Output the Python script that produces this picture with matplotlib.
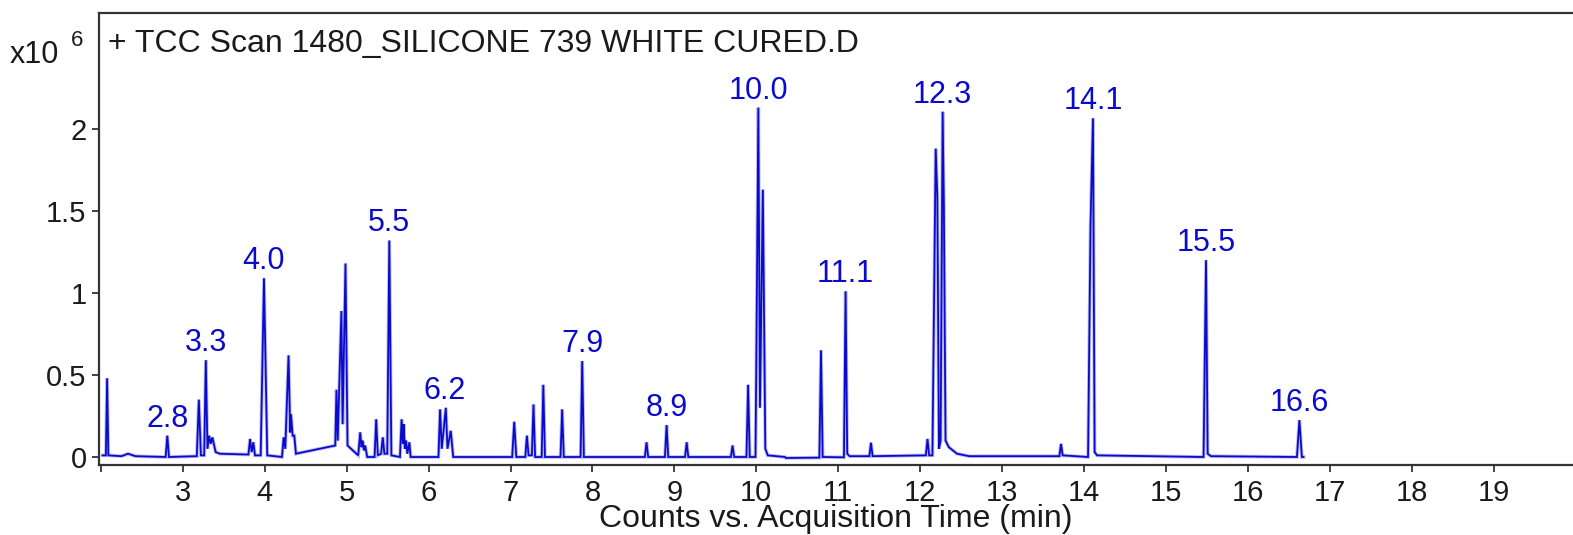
import matplotlib
matplotlib.use("Agg")
import matplotlib.pyplot as plt
from matplotlib.ticker import FixedLocator, FixedFormatter

# ---- data ----
# chromatogram trace vertices: acquisition time (min), counts (x10^6)
trace_time = [2.02, 2.06, 2.075, 2.09, 2.25, 2.33, 2.42, 2.79, 2.81, 2.83,
              3.17, 3.195, 3.22, 3.26, 3.28, 3.30, 3.32, 3.34, 3.36, 3.40,
              3.45, 3.80, 3.82, 3.84, 3.86, 3.88, 3.95, 3.99, 4.03, 4.21,
              4.23, 4.25, 4.29, 4.31, 4.32, 4.34, 4.36, 4.38, 4.86, 4.875,
              4.89, 4.935, 4.95, 4.985, 5.01, 5.14, 5.165, 5.18, 5.195, 5.21,
              5.225, 5.25, 5.34, 5.36, 5.38, 5.42, 5.44, 5.46, 5.495, 5.52,
              5.545, 5.65, 5.67, 5.685, 5.695, 5.71, 5.725, 5.74, 5.765, 5.78,
              6.12, 6.14, 6.16, 6.21, 6.23, 6.27, 6.30, 7.02, 7.045, 7.07,
              7.18, 7.20, 7.22, 7.26, 7.28, 7.30, 7.38, 7.40, 7.42, 7.61,
              7.63, 7.65, 7.855, 7.875, 7.895, 8.64, 8.66, 8.68, 8.885, 8.905,
              8.925, 9.13, 9.15, 9.17, 9.69, 9.71, 9.73, 9.88, 9.90, 9.92,
              9.99, 10.00, 10.025, 10.045, 10.08, 10.11, 10.14, 10.35, 10.36, 10.77,
              10.79, 10.81, 11.07, 11.09, 11.11, 11.14, 11.38, 11.40, 11.42, 12.07,
              12.09, 12.11, 12.15, 12.19, 12.21, 12.23, 12.25, 12.275, 12.29, 12.31,
              12.35, 12.45, 12.60, 13.70, 13.72, 13.74, 14.05, 14.08, 14.11, 14.13,
              14.16, 15.46, 15.49, 15.51, 15.55, 16.60, 16.63, 16.66, 16.68]
trace_counts = [0.01, 0.01, 0.48, 0.01, 0.005, 0.02, 0.005, 0.0, 0.13, 0.0,
                0.005, 0.35, 0.01, 0.01, 0.59, 0.05, 0.13, 0.08, 0.12, 0.03,
                0.02, 0.015, 0.11, 0.03, 0.09, 0.01, 0.01, 1.09, 0.01, 0.0,
                0.12, 0.05, 0.62, 0.15, 0.26, 0.13, 0.13, 0.02, 0.07, 0.41,
                0.10, 0.89, 0.20, 1.18, 0.07, 0.01, 0.15, 0.06, 0.10, 0.04,
                0.07, 0.0, 0.0, 0.23, 0.01, 0.02, 0.12, 0.02, 0.02, 1.32,
                0.01, 0.0, 0.23, 0.08, 0.20, 0.05, 0.10, 0.02, 0.09, 0.0,
                0.0, 0.29, 0.05, 0.30, 0.05, 0.16, 0.0, 0.0, 0.215, 0.0,
                0.0, 0.13, 0.01, 0.01, 0.32, 0.0, 0.0, 0.44, 0.0, 0.0,
                0.29, 0.0, 0.0, 0.585, 0.0, 0.0, 0.09, 0.0, 0.0, 0.195,
                0.0, 0.0, 0.09, 0.0, 0.0, 0.07, 0.0, 0.0, 0.44, 0.0,
                0.0, 0.56, 2.13, 0.30, 1.63, 0.05, 0.01, 0.0, -0.006, -0.004,
                0.65, 0.0, -0.002, 1.01, 0.02, 0.005, 0.005, 0.087, 0.005, 0.01,
                0.11, 0.01, 0.01, 1.88, 1.59, 0.05, 0.10, 2.105, 1.53, 0.10,
                0.06, 0.02, 0.005, 0.005, 0.08, 0.01, 0.0, 1.41, 2.065, 0.03,
                0.01, 0.0, 1.20, 0.02, 0.005, 0.0, 0.225, 0.0, 0.0]

# peak labels: text, apex time, apex counts (x10^6)
label_text = ["2.8", "3.3", "4.0", "5.5", "6.2", "7.9", "8.9", "10.0",
              "11.1", "12.3", "14.1", "15.5", "16.6"]
label_time = [2.81, 3.28, 3.99, 5.52, 6.20, 7.875, 8.905, 10.025,
              11.09, 12.275, 14.11, 15.49, 16.63]
label_height = [0.13, 0.59, 1.09, 1.32, 0.30, 0.585, 0.195, 2.13,
                1.01, 2.105, 2.065, 1.20, 0.225]

x_ticks = list(range(2, 20))
x_tick_labels = [""] + [str(v) for v in range(3, 20)]
y_ticks = [0, 0.5, 1, 1.5, 2]
y_tick_labels = ["0", "0.5", "1", "1.5", "2"]

title_text = "+ TCC Scan 1480_SILICONE 739 WHITE CURED.D"
x_label = "Counts vs. Acquisition Time (min)"

# ---- figure ----
plt.rcParams['font.family'] = ['Liberation Sans', 'DejaVu Sans']
W, H, DPI = 1573, 535, 100
fig = plt.figure(figsize=(W / DPI, H / DPI), dpi=DPI)
ax = fig.add_axes([99 / W, 1 - 465 / H, 1 - 99 / W, (465 - 13) / H])

blue = '#0A0ACC'
ax.plot(trace_time, trace_counts, color='#6a6ae0', lw=2.6, alpha=0.45,
        solid_joinstyle='miter')
ax.plot(trace_time, trace_counts, color=blue, lw=1.3, solid_joinstyle='miter')

for t, h, s in zip(label_time, label_height, label_text):
    ax.annotate(s, xy=(t, h), xytext=(0, 6.5), textcoords='offset points',
                ha='center', va='baseline', color=blue, fontsize=22)

ax.set_xlim(1.976, 19.97)
ax.set_ylim(-0.0488, 2.707)

ax.xaxis.set_major_locator(FixedLocator(x_ticks))
ax.xaxis.set_major_formatter(FixedFormatter(x_tick_labels))
ax.yaxis.set_major_locator(FixedLocator(y_ticks))
ax.yaxis.set_major_formatter(FixedFormatter(y_tick_labels))

ax.tick_params(axis='both', direction='out', length=5, width=1.2,
               colors='#222222', labelsize=21, labelcolor='#1a1a1a')
ax.tick_params(axis='x', pad=5)
ax.tick_params(axis='y', pad=4)

for side in ['left', 'bottom', 'top']:
    ax.spines[side].set_linewidth(1.6)
    ax.spines[side].set_color('#333333')
ax.spines['right'].set_visible(False)

ax.set_xlabel(x_label, fontsize=23, color='#1a1a1a', labelpad=-2)

ax.text(108 / W, 1 - 52 / H, title_text, transform=fig.transFigure,
        fontsize=23, color='#1a1a1a', ha='left', va='baseline')

fig.text(10 / W, 1 - 63 / H, "x10", fontsize=22, color='#1a1a1a',
         ha='left', va='baseline')
fig.text(71 / W, 1 - 46 / H, "6", fontsize=16, color='#1a1a1a',
         ha='left', va='baseline')

fig.savefig("out.png", dpi=DPI)
